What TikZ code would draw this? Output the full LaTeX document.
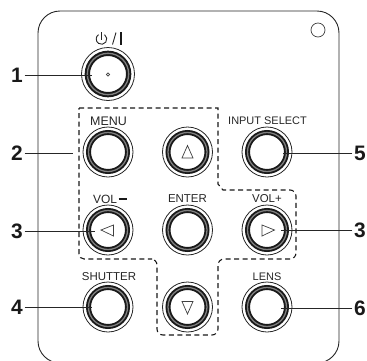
\documentclass[tikz,border=0pt]{standalone}
\usepackage{fontspec}
\setmainfont{Liberation Sans}
\newcommand{\pushbtn}[4]{%
  \node[btnbase,minimum size=#4*2bp] (#1) at (#2,#3) {};
  \draw[draw=black!90,line width=#4*0.2bp] (#1.center) circle[radius=#4*0.78];
  \draw[draw=black!50,line width=#4*0.05bp] (#1.center) circle[radius=#4*0.78];
}
\begin{document}
\begin{tikzpicture}[x=1bp,y=-1bp,
  outline/.style={draw=black!85,line width=0.9bp},
  leader/.style={draw=black!85,line width=1bp},
  num/.style={font=\bfseries\fontsize{21}{21}\selectfont,inner sep=1.5bp,text=black!90},
  lab/.style={font=\fontsize{11.5}{12}\selectfont,inner sep=0pt,text=black!85},
  btnbase/.style={circle,inner sep=0pt,fill=white,draw=black!85,line width=0.8bp},
  grp/.style={draw=black!90,line width=1.1bp,dash pattern=on 5bp off 3.5bp},
  sym/.style={draw=black!75,line width=0.7bp,line join=miter}
]
\useasboundingbox (0,0) rectangle (367,361);
% panel
\begin{scope}
\clip (0,0) rectangle (367,361);
\draw[outline,rounded corners=22bp] (38,11) rectangle (339,363);
\end{scope}
\node[circle,draw=black!75,line width=0.7bp,minimum size=14bp,inner sep=0pt] (led) at (318,30) {};
% dashed group
\draw[grp] (79,108) -- (218,108) -- (218,184) -- (223,190)
  [rounded corners=6bp] -- (296,190) -- (296,259) -- (218,259) -- (218,335) -- (157,335) -- (157,259)
  [sharp corners] -- (152,259)
  [rounded corners=5bp] -- (79,259) -- (79,108);
% buttons
\pushbtn{b1}{108}{74}{26.5}
\pushbtn{menu}{108}{152}{25}
\pushbtn{up}{187.5}{152}{25}
\pushbtn{input}{267}{152}{25}
\pushbtn{volm}{108}{230}{25}
\pushbtn{enter}{187.5}{230}{25}
\pushbtn{volp}{267}{230}{25}
\pushbtn{shut}{108}{307}{25}
\pushbtn{down}{187.5}{307}{25}
\pushbtn{lens}{267}{307}{25}
% button marks
\node[circle,draw=black!75,line width=0.6bp,minimum size=3.2bp,inner sep=0pt] (dot) at (108,74.5) {};
\draw[sym] (187.5,145.5) -- (182,158) -- (193,158) -- cycle;
\draw[sym] (187.5,314) -- (182,301.5) -- (193,301.5) -- cycle;
\draw[sym] (101,230) -- (113.5,225) -- (113.5,236) -- cycle;
\draw[sym] (274.5,230) -- (262,225) -- (262,236) -- cycle;
% labels
\node[lab,font=\fontsize{12.5}{13}\selectfont] (lmenu) at (108.5,121) {MENU};
\node[lab,font=\fontsize{11}{12}\selectfont] (lin) at (267.5,121) {INPUT SELECT};
\node[lab,font=\fontsize{12}{12}\selectfont] (lvolm) at (105,199) {VOL};
\draw[draw=black!90,line width=1.3bp] (118.5,199) -- (126.5,199);
\node[lab] (lent) at (187.5,199) {ENTER};
\node[lab] (lvolp) at (267,199) {VOL+};
\node[lab] (lshut) at (109,277) {SHUTTER};
\node[lab,font=\fontsize{11}{12}\selectfont] (llens) at (267,277) {LENS};
% power label
\draw[draw=black!85,line width=0.9bp] (104.54,34.66) arc[start angle=-55,end angle=235,radius=5.3];
\draw[draw=black!85,line width=0.9bp] (101.5,32) -- (101.5,39.5);
\draw[draw=black!85,line width=0.9bp] (112.5,44.5) -- (116,32.5);
\draw[draw=black!90,line width=1.6bp] (121,32) -- (121,45);
% numbers and leaders
\node[num] (n1) at (17,75) {1};
\node[num] (n2) at (17,153) {2};
\node[num] (n3) at (17,231) {3};
\node[num] (n4) at (17,307) {4};
\node[num] (n5) at (360,153) {5};
\node[num] (n3r) at (360,230) {3};
\node[num] (n6) at (360,308) {6};
\coordinate (e1) at (92,75);
\coordinate (e2) at (73,153);
\coordinate (e3) at (95,231);
\coordinate (e4) at (92,307);
\coordinate (e5) at (283,153);
\coordinate (e3r) at (281,230);
\coordinate (e6) at (281,308);
\foreach \a/\b in {n1/e1,n2/e2,n3/e3,n4/e4}
  \draw[leader] (\a.east) -- (\a.east -| \b);
\foreach \a/\b in {n5/e5,n3r/e3r,n6/e6}
  \draw[leader] (\a.west) -- (\a.west -| \b);
\end{tikzpicture}
\end{document}
